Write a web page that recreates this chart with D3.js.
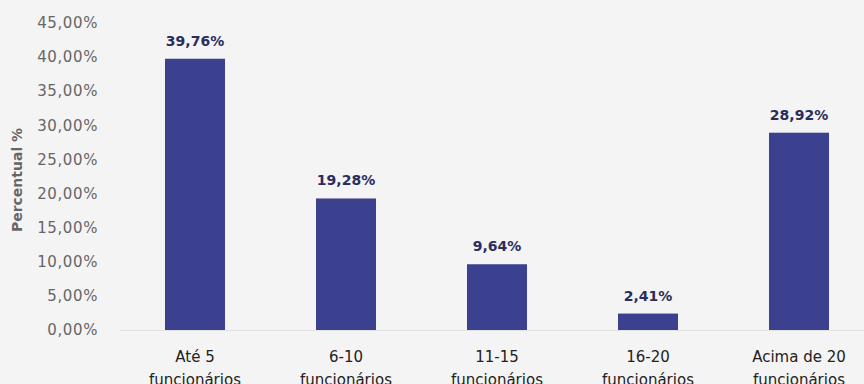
<!DOCTYPE html>
<html>
<head>
<meta charset="utf-8">
<script src="https://cdn.jsdelivr.net/npm/d3@7"></script>
<style>
  html, body { margin: 0; padding: 0; background: #f4f4f4; }
  svg { display: block; font-family: "DejaVu Sans", sans-serif; }
</style>
</head>
<body>
<svg id="chart" width="864" height="384"></svg>
<script>
const categorias = [["Até 5", "funcionários"], ["6-10", "funcionários"], ["11-15", "funcionários"], ["16-20", "funcionários"], ["Acima de 20", "funcionários"]];
const valores = [39.76, 19.28, 9.64, 2.41, 28.92];
const ticksY = [0, 5, 10, 15, 20, 25, 30, 35, 40, 45];

const svg = d3.select("#chart");
const fmt = v => v.toFixed(2).replace(".", ",") + "%";

const gx = d3.scaleBand()
    .domain(d3.range(valores.length))
    .range([119.5, 874.5])
    .paddingInner(0.6026)
    .paddingOuter(0.3013);

const gy = d3.scaleLinear().domain([0, 45]).range([330, 23]);

// eixo y
svg.append("g")
    .selectAll("text")
    .data(ticksY)
    .enter()
    .append("text")
    .attr("x", 98)
    .attr("y", d => gy(d))
    .attr("dy", "0.35em")
    .attr("text-anchor", "end")
    .style("font-size", "15px")
    .style("letter-spacing", "0.6px")
    .style("fill", "#666")
    .text(d => fmt(d));

svg.append("text")
    .attr("transform", "translate(22,180) rotate(-90)")
    .attr("text-anchor", "middle")
    .style("font-size", "14px")
    .style("font-weight", "bold")
    .style("fill", "#666")
    .text("Percentual %");

// linha base
svg.append("line")
    .attr("x1", 120).attr("x2", 864)
    .attr("y1", gy(0) + 0.5).attr("y2", gy(0) + 0.5)
    .style("stroke", "#e2e2e2")
    .style("stroke-width", 1);

// barras
svg.append("g")
    .selectAll("rect")
    .data(valores)
    .enter()
    .append("rect")
    .attr("x", (d, i) => gx(i))
    .attr("y", d => gy(d))
    .attr("width", gx.bandwidth())
    .attr("height", d => gy(0) - gy(d))
    .style("fill", "#3c418f");

// rótulos
svg.append("g")
    .selectAll("text")
    .data(valores)
    .enter()
    .append("text")
    .attr("x", (d, i) => gx(i) + gx.bandwidth() / 2)
    .attr("y", d => gy(d) - 13)
    .attr("text-anchor", "middle")
    .style("font-size", "14px")
    .style("font-weight", "bold")
    .style("fill", "#2a2d5e")
    .text(d => fmt(d));

// categorias
const cat = svg.append("g")
    .selectAll("text")
    .data(categorias)
    .enter()
    .append("text")
    .attr("text-anchor", "middle")
    .style("font-size", "15px")
    .style("fill", "#222");

cat.each(function(d, i) {
    const t = d3.select(this);
    const cx = gx(i) + gx.bandwidth() / 2;
    d.forEach((linha, k) => {
        t.append("tspan")
            .attr("x", cx)
            .attr("y", 362 + k * 23)
            .text(linha);
    });
});
</script>
</body>
</html>
